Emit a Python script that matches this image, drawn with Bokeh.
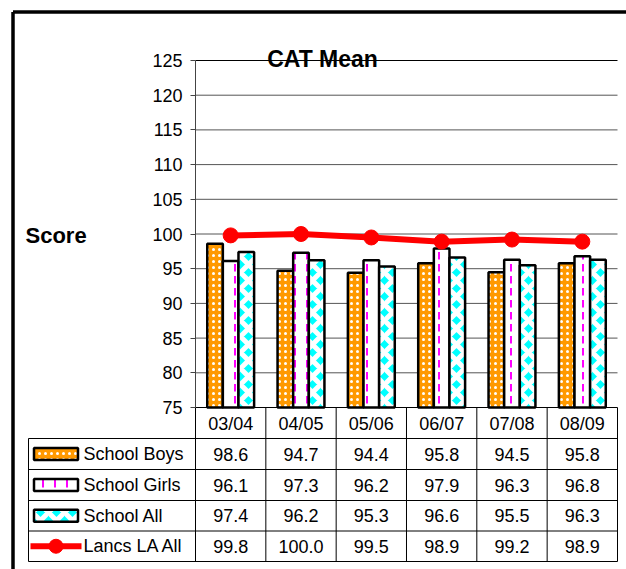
from bokeh.plotting import figure
from bokeh.models import LinearAxis, FixedTicker, Range1d, ColumnDataSource
from bokeh.core.properties import value
from bokeh.embed import file_html
from bokeh.resources import INLINE

# ---------------- data ----------------
categories = ["03/04", "04/05", "05/06", "06/07", "07/08", "08/09"]
school_boys = [98.6, 94.7, 94.4, 95.8, 94.5, 95.8]
school_girls = [96.1, 97.3, 96.2, 97.9, 96.3, 96.8]
school_all = [97.4, 96.2, 95.3, 96.6, 95.5, 96.3]
lancs_la_all = [99.8, 100.0, 99.5, 98.9, 99.2, 98.9]
series_names = ["School Boys", "School Girls", "School All", "Lancs LA All"]
y_ticks = [75, 80, 85, 90, 95, 100, 105, 110, 115, 120, 125]

# ---------------- layout constants (page pixels) ----------------
W, H = 626, 569
PAGE_OFF = 0
X0_PX = 195.0     # left edge of first category column
COL_W = 70.33     # category column width in px
Y_TOP_PX = 60.0   # pixel of y=125
PX_PER_UNIT = 6.94
Y_MIN, Y_MAX = 75, 125

def xd(px):
    return (px - X0_PX) / COL_W

def yd(py):
    return Y_MAX - (py - Y_TOP_PX) / PX_PER_UNIT

FONT = value("Liberation Sans")
TXT = "18px"

p = figure(width=W, height=H, output_backend="svg", toolbar_location=None,
           x_range=Range1d(xd(PAGE_OFF), xd(PAGE_OFF + W)),
           y_range=Range1d(yd(PAGE_OFF + H), yd(PAGE_OFF)),
           x_axis_type=None, y_axis_type=None,
           min_border=0, min_border_left=0, min_border_right=0,
           min_border_top=0, min_border_bottom=0)
p.outline_line_color = None
p.xgrid.visible = False
p.ygrid.visible = False
p.background_fill_color = "white"
p.border_fill_color = "white"

n = len(categories)
centers = [i + 0.5 for i in range(n)]

# outer chart frame (left and top visible)
fl, ft = xd(12.5), yd(11.5)
p.segment(x0=[fl, fl], y0=[ft, ft], x1=[fl, xd(PAGE_OFF + W)], y1=[yd(PAGE_OFF + H), ft],
          line_color="black", line_width=3.5)

# horizontal grid lines (within plot area)
gt = [t for t in y_ticks if t > Y_MIN]
grid_cols = ["black" if t == Y_MAX else "#555555" for t in gt]
p.segment(x0=[0] * len(gt), x1=[xd(617)] * len(gt), y0=gt, y1=gt,
          line_color=grid_cols, line_width=1)

# bars
bw = 2.0 / 9.0
bar_specs = [
    (school_boys, -bw, dict(fill_color="#FF9900", hatch_pattern="dot", hatch_color="white",
                            hatch_scale=6, hatch_weight=0.8)),
    (school_girls, 0.0, dict(fill_color="white", hatch_pattern="vertical_dash", hatch_color="#FF00FF",
                             hatch_scale=12, hatch_weight=2)),
    (school_all, bw, dict(fill_color="#00FFFF", hatch_pattern="diagonal_cross", hatch_color="white",
                          hatch_scale=16, hatch_weight=5)),
]
for vals, off, style in bar_specs:
    src = ColumnDataSource(dict(x=[c + off for c in centers], top=vals, bottom=[Y_MIN] * n))
    p.vbar(x="x", top="top", bottom="bottom", width=bw, source=src,
           line_color="black", line_width=2.5, **style)

# line series
p.line(centers, lancs_la_all, line_color="#FF0000", line_width=6)
p.scatter(centers, lancs_la_all, marker="circle", size=15, fill_color="#FF0000", line_color="#FF0000")

# y axis
yax = LinearAxis(fixed_location=0, bounds=(Y_MIN, Y_MAX), ticker=FixedTicker(ticks=y_ticks))
yax.major_tick_out = 5
yax.major_tick_in = 0
yax.minor_tick_line_color = None
yax.axis_line_color = "#444444"
yax.major_tick_line_color = "#444444"
yax.major_label_text_font = "Liberation Sans"
yax.major_label_text_font_size = TXT
yax.major_label_text_color = "black"
yax.major_label_standoff = 8
p.add_layout(yax, "left")

# x axis as category header row
xax = LinearAxis(fixed_location=Y_MIN, bounds=(0, xd(617)), ticker=FixedTicker(ticks=centers),
                 major_label_overrides={c: lab for c, lab in zip(centers, categories)})
xax.major_tick_out = 0
xax.major_tick_in = 0
xax.minor_tick_line_color = None
xax.axis_line_color = "black"
xax.axis_line_width = 1
xax.major_label_text_font = "Liberation Sans"
xax.major_label_text_font_size = TXT
xax.major_label_text_color = "black"
xax.major_label_standoff = 6
p.add_layout(xax, "below")

# data table lines
row_px = [438, 469, 500, 530.5, 561]
row_y = [yd(r) for r in row_px]
p.segment(x0=[xd(28)] * len(row_y), x1=[xd(617)] * len(row_y), y0=row_y, y1=row_y,
          line_color="black", line_width=1)
col_x = [i for i in range(n)] + [xd(617)]
p.segment(x0=col_x, x1=col_x, y0=[Y_MIN] * len(col_x), y1=[row_y[-1]] * len(col_x),
          line_color="black", line_width=1)
p.segment(x0=[xd(28)], x1=[xd(28)], y0=[row_y[0]], y1=[row_y[-1]], line_color="black", line_width=1)

# table values
all_series = [school_boys, school_girls, school_all, lancs_la_all]
row_mid = [(row_y[k] + row_y[k + 1]) / 2 for k in range(4)]
tx, ty, tt = [], [], []
for k, vals in enumerate(all_series):
    for i, v in enumerate(vals):
        tx.append(centers[i])
        ty.append(row_mid[k])
        tt.append(f"{v:.1f}")
p.text(x=tx, y=ty, text=tt, text_align="center", text_baseline="middle",
       text_font=FONT, text_font_size=TXT, text_color="black")

# legend names in table
p.text(x=[xd(83)] * 4, y=row_mid, text=series_names, text_align="left", text_baseline="middle",
       text_font=FONT, text_font_size=TXT, text_color="black")

# legend keys
key_x = xd(55.5)
for k, (vals, off, style) in enumerate(bar_specs):
    p.rect(x=[key_x], y=[row_mid[k]], width=44, height=12, width_units="screen", height_units="screen",
           line_color="black", line_width=2.5, **style)
p.line([xd(30), xd(81)], [row_mid[3], row_mid[3]], line_color="#FF0000", line_width=6)
p.scatter([key_x], [row_mid[3]], marker="circle", size=14, fill_color="#FF0000", line_color="#FF0000")

# title and axis label
p.text(x=[xd(322)], y=[yd(58.5)], text=["CAT Mean"], text_align="center", text_baseline="alphabetic",
       text_font=FONT, text_font_size="23px", text_font_style="bold", text_color="black")
p.text(x=[xd(25)], y=[yd(235)], text=["Score"], text_align="left", text_baseline="middle",
       text_font=FONT, text_font_size="22px", text_font_style="bold", text_color="black")

open("out.html", "w").write(file_html(p, INLINE))
